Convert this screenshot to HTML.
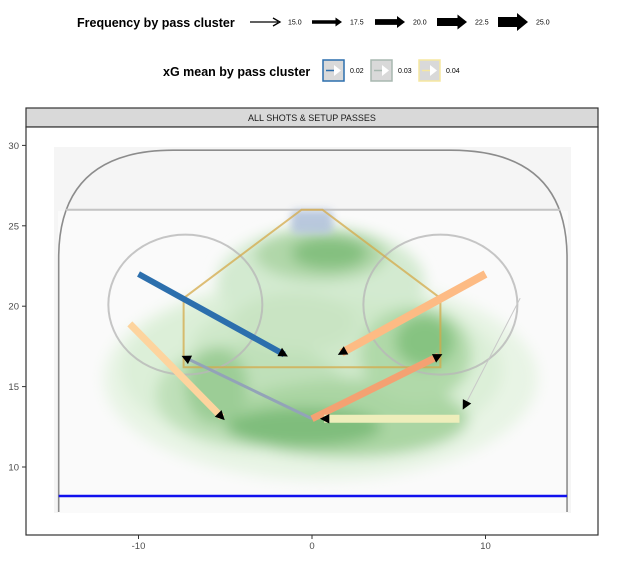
<!DOCTYPE html>
<html><head><meta charset="utf-8">
<style>
body{margin:0;background:#fff;font-family:"Liberation Sans",sans-serif;}
svg text{font-family:"Liberation Sans",sans-serif;}
</style></head>
<body>
<svg id="chart" width="632" height="562" viewBox="0 0 632 562" xmlns="http://www.w3.org/2000/svg">
<defs>
<filter id="blur" x="-50%" y="-50%" width="200%" height="200%"><feGaussianBlur stdDeviation="7"/></filter>
<filter id="blur2" x="-50%" y="-50%" width="200%" height="200%"><feGaussianBlur stdDeviation="4"/></filter>
</defs>
<g>
<text x="77" y="27" font-size="12.5" font-weight="bold">Frequency by pass cluster</text>
<g id="freqKeys"></g>
</g>
<g>
<text x="163" y="76" font-size="12.5" font-weight="bold">xG mean by pass cluster</text>
<g id="xgKeys"></g>
</g>
<rect x="26" y="108" width="572" height="19" fill="#d9d9d9" stroke="#333" stroke-width="1.2"/>
<text x="312" y="121" font-size="9" text-anchor="middle" fill="#1a1a1a">ALL SHOTS &amp; SETUP PASSES</text>
<rect x="26" y="127" width="572" height="408" fill="#fff" stroke="#333" stroke-width="1.2"/>
<g id="plot"></g>
<g id="axes"></g>
</svg>
<script>
const xTicks=[-10,0,10];
const yTicks=[10,15,20,25,30];
const passStartX=[-10,10,-10.5,0,0,8.5,12];
const passStartY=[22,22,18.9,13,13,13,20.5];
const passEndX=[-1.6,1.7,-5.2,-7.3,7.3,0.7,8.8];
const passEndY=[17,17.1,13.1,16.8,16.9,13,13.8];
const passWidth=[6,8,7,3,7,8,1];
const passColor=["#2c6fad","#fdbb84","#fdd49e","#93a3b8","#f4a172","#eeeebb","#c8c8c8"];
const freqLabels=["15.0","17.5","20.0","22.5","25.0"];
const xgLabels=["0.02","0.03","0.04"];
const xgColors=["#2c6fad","#a8b8b0","#f6e7a0"];

const NS="http://www.w3.org/2000/svg";
const sx=v=>312+v*17.35;
const sy=v=>467-(v-10)*16.08;
function mk(tag,attrs,parent){const e=document.createElementNS(NS,tag);for(const k in attrs)e.setAttribute(k,attrs[k]);parent.appendChild(e);return e;}
const plot=document.getElementById('plot');

let r=mk('rect',{x:54,y:147,width:517,height:366,fill:"#f5f5f5"},plot);


r=mk('rect',{x:58,y:211,width:510,height:302,fill:"#fafafa"},plot);



const dg=mk('g',{filter:"url(#blur)"},plot);


const blobs=[
[0.5,15.5,12.5,6.3,"#e8f4e5"],[0,16,11,5.3,"#dcefd8"],[0.5,21.5,6,3.4,"#d3ead0"],
[0.5,17.5,7.5,3,"#cfe8ca"],
[-3.5,14.5,5.5,3.3,"#bfe0b9"],[2,13,7,2.4,"#aad5a3"],[6,17,3.2,3,"#b0d9a9"],
[0.5,23.2,3.8,1.6,"#b0d7a9"],[1,23.3,2.2,1,"#84c07f"],[6.5,17.8,1.7,1.6,"#86c381"],
[-0.5,12.5,4.5,1.2,"#7fbd7b"],[-5.5,15,1.8,2.4,"#9ccd96"],[-1,19,3.5,1.8,"#c9e4c3"]];
blobs.forEach(b=>{mk('ellipse',{cx:sx(b[0]),cy:sy(b[1]),rx:b[2]*17.35,ry:b[3]*16.08,fill:b[4]},dg);});

r=mk('rect',{x:sx(-1.2),y:sy(26),width:2.4*17.35,height:1.5*16.08,rx:6,fill:"#b4c4dc",opacity:0.9,filter:"url(#blur2)"},plot);



let p=mk('path',{d:`M ${sx(-14.6)} ${sy(7.2)} L ${sx(-14.6)} ${sy(23)} Q ${sx(-14.6)} ${sy(29.7)} ${sx(-8)} ${sy(29.7)} L ${sx(8)} ${sy(29.7)} Q ${sx(14.7)} ${sy(29.7)} ${sx(14.7)} ${sy(23)} L ${sx(14.7)} ${sy(7.2)}`,fill:"none",stroke:"#8c8c8c","stroke-width":1.6},plot);


let l=mk('line',{x1:sx(-14.2),x2:sx(14.3),y1:sy(26),y2:sy(26),stroke:"#c4c4c4","stroke-width":2},plot);


l=mk('line',{x1:sx(-14.6),x2:sx(14.7),y1:sy(8.2),y2:sy(8.2),stroke:"#1010ee","stroke-width":2.5},plot);


[-7.3,7.4].forEach((cx,i)=>{const c=mk('ellipse',{cx:sx(cx),cy:sy(20.1),rx:77,ry:70,fill:"none",stroke:"#b8b8b8","stroke-width":2,opacity:0.8},plot);

});
p=mk('path',{d:`M ${sx(-7.4)} ${sy(16.2)} L ${sx(-7.4)} ${sy(20.5)} L ${sx(-0.6)} ${sy(26)} L ${sx(0.6)} ${sy(26)} L ${sx(7.4)} ${sy(20.5)} L ${sx(7.4)} ${sy(16.2)} Z`,fill:"none",stroke:"#d4aa4a","stroke-width":2,opacity:0.75},plot);



function head(x,y,ang,size,parent){
  const a=ang, s=size;
  const pts=[[x+Math.cos(a)*s*0.6,y+Math.sin(a)*s*0.6],[x+Math.cos(a+2.4)*s,y+Math.sin(a+2.4)*s],[x+Math.cos(a-2.4)*s,y+Math.sin(a-2.4)*s]];
  return mk('polygon',{points:pts.map(q=>q.join(',')).join(' '),fill:"#000"},parent);
}
passStartX.forEach((_,i)=>{
  const g=mk('g',{},plot);
  
  
  const x1=sx(passStartX[i]),y1=sy(passStartY[i]),x2=sx(passEndX[i]),y2=sy(passEndY[i]);
  mk('line',{x1,y1,x2,y2,stroke:passColor[i],"stroke-width":passWidth[i]},g);
  const ang=Math.atan2(y2-y1,x2-x1);
  const h=head(x2,y2,ang,7,g);
  
  
});

const ax=document.getElementById('axes');
xTicks.forEach(v=>{
  mk('line',{x1:sx(v),x2:sx(v),y1:535,y2:539,stroke:"#333"},ax);
  const t=mk('text',{x:sx(v),y:549,"font-size":9.5,"text-anchor":"middle",fill:"#4d4d4d"},ax);t.textContent=v;
  
  
});
yTicks.forEach(v=>{
  mk('line',{x1:22,x2:26,y1:sy(v),y2:sy(v),stroke:"#333"},ax);
  const t=mk('text',{x:19,y:sy(v)+3.5,"font-size":9.5,"text-anchor":"end",fill:"#4d4d4d"},ax);t.textContent=v;
  
  
});

const fk=document.getElementById('freqKeys');
const fx=[250,312,375,437,498];
freqLabels.forEach((lab,i)=>{
  const g=mk('g',{},fk);
  
  
  const w=1.3+i*2.2, x0=fx[i], x1=x0+30;
  const hs=i===0?0:3+i*1.5;
  mk('line',{x1:x0,y1:22,x2:x1-Math.max(hs,2),y2:22,stroke:"#000","stroke-width":w},g);
  if(i===0){mk('path',{d:`M ${x1-7} 18 L ${x1} 22 L ${x1-7} 26`,fill:"none",stroke:"#000","stroke-width":1.3},g);}
  else mk('polygon',{points:`${x1-hs-2} ${22-hs} ${x1} 22 ${x1-hs-2} ${22+hs}`,fill:"#000"},g);
  const t=mk('text',{x:x1+8,y:24.5,"font-size":7},g);t.textContent=lab;
});
const xk=document.getElementById('xgKeys');
xgLabels.forEach((lab,i)=>{
  const g=mk('g',{},xk);
  
  
  const x0=323+i*48;
  mk('rect',{x:x0,y:60,width:21,height:21,fill:"#d9d9d9",stroke:xgColors[i],"stroke-width":1.5},g);
  mk('line',{x1:x0+3,y1:70.5,x2:x0+12,y2:70.5,stroke:xgColors[i],"stroke-width":1.5},g);
  mk('polygon',{points:`${x0+11} 65 ${x0+18} 70.5 ${x0+11} 76`,fill:"#fff"},g);
  const t=mk('text',{x:x0+27,y:73,"font-size":7},g);t.textContent=lab;
});
</script>
</body></html>
